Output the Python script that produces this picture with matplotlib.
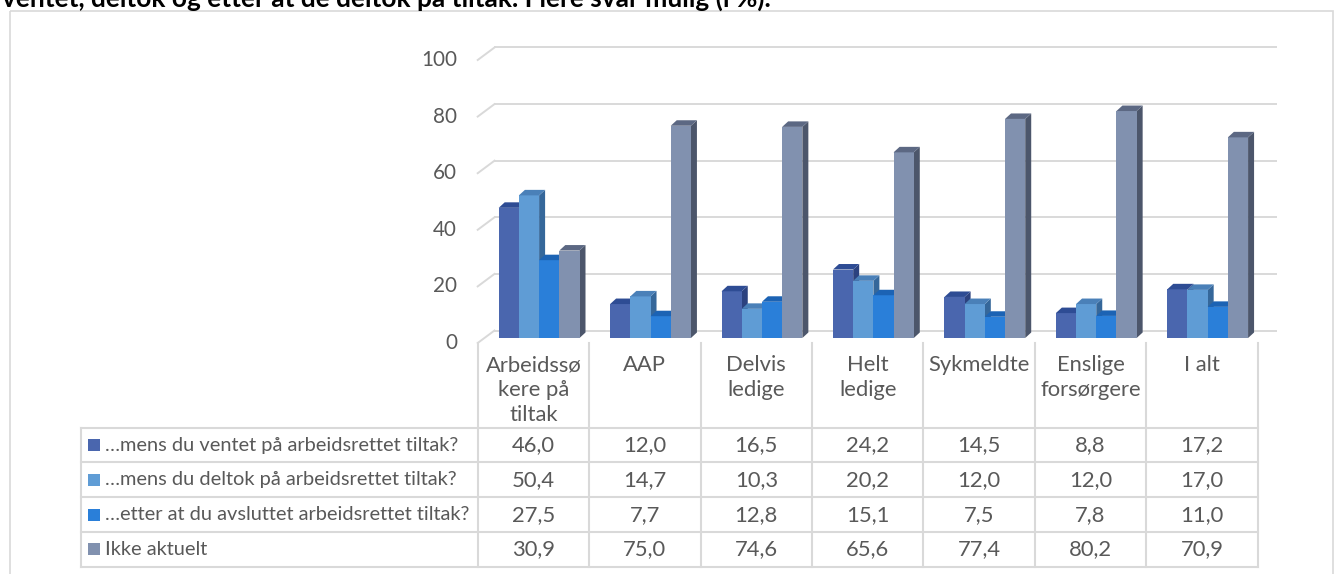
import matplotlib
matplotlib.use('Agg')
import matplotlib.pyplot as plt
from matplotlib.patches import Polygon, Rectangle

plt.rcParams['font.family'] = ['Lato', 'DejaVu Sans']

title = 'ventet, deltok og etter at de deltok på tiltak. Flere svar mulig (i %).'
categories = ['Arbeidssø\nkere på\ntiltak', 'AAP', 'Delvis\nledige', 'Helt\nledige',
              'Sykmeldte', 'Enslige\nforsørgere', 'I alt']
series_names = ['…mens du ventet på arbeidsrettet tiltak?',
                '…mens du deltok på arbeidsrettet tiltak?',
                '…etter at du avsluttet arbeidsrettet tiltak?',
                'Ikke aktuelt']
ventet = [46.0, 12.0, 16.5, 24.2, 14.5, 8.8, 17.2]
deltok = [50.4, 14.7, 10.3, 20.2, 12.0, 12.0, 17.0]
etter = [27.5, 7.7, 12.8, 15.1, 7.5, 7.8, 11.0]
ikke_aktuelt = [30.9, 75.0, 74.6, 65.6, 77.4, 80.2, 70.9]
y_ticks = [0, 20, 40, 60, 80, 100]

series = [ventet, deltok, etter, ikke_aktuelt]
# front / top / side shades for each series
front_cols = ['#4A66AE', '#5F9CD5', '#2A7FD9', '#8191AF']
top_cols = ['#2E4C94', '#4A80B8', '#1C63B4', '#5C6883']
side_cols = ['#2C427F', '#35679A', '#1A5699', '#4C566B']
text_col = '#595959'
line_col = '#D9D9D9'

W, H = 1340, 574
fig = plt.figure(figsize=(W / 100, H / 100), dpi=100)
renderer = fig.canvas.get_renderer()


def fit_size(text, width_px, weight='normal'):
    t = fig.text(0, 0, text, fontsize=10, fontweight=weight)
    w = t.get_window_extent(renderer=renderer).width
    t.remove()
    return 10 * width_px / w


fs = fit_size(series_names[2], 367)
cell_fs = fs * 1.1
title_fs = fit_size(title, 771, 'bold')

# pixel layer for frame, title and data table
lay = fig.add_axes([0, 0, 1, 1])
lay.set_xlim(0, W)
lay.set_ylim(H, 0)
lay.axis('off')

lay.add_patch(Rectangle((9.5, 10.5), 1323, 600, fill=False, ec=line_col, lw=1.2))
lay.text(2, 6.5, title, fontsize=title_fs, fontweight='bold', color='black',
         ha='left', va='baseline')

tab_left, col0, col_w = 80.7, 477.7, 780 / 7
head_top, head_bot = 343, 427.7
row_h = (566.8 - head_bot) / 4
n = len(categories)
col_edges = [col0 + k * col_w for k in range(n + 1)]
row_edges = [head_bot + k * row_h for k in range(5)]

for x in col_edges:
    lay.plot([x, x], [head_top, row_edges[-1]], color=line_col, lw=1.5)
lay.plot([tab_left, tab_left], [head_bot, row_edges[-1]], color=line_col, lw=1.5)
for y in row_edges:
    lay.plot([tab_left, col_edges[-1]], [y, y], color=line_col, lw=1.5)

for i, cat in enumerate(categories):
    cx = col_edges[i] + col_w / 2
    for k, line in enumerate(cat.split('\n')):
        lay.text(cx, 365 + 25 * k, line, fontsize=cell_fs, color=text_col,
                 ha='center', va='center')

for r, (name, vals) in enumerate(zip(series_names, series)):
    cy = row_edges[r] + row_h / 2
    lay.add_patch(Rectangle((88, cy - 6), 12, 12, color=front_cols[r], lw=0))
    lay.text(105, cy, name, fontsize=fs, color=text_col, ha='left', va='center')
    for i, v in enumerate(vals):
        lay.text(col_edges[i] + col_w / 2, cy, f'{v:.1f}'.replace('.', ','),
                 fontsize=cell_fs, color=text_col, ha='center', va='center')

# 3D-looking column chart
px_per_unit = 2.83
ax = fig.add_axes([col0 / W, (H - 338) / H, 780 / W, 338 / H])
ax.set_xlim(0, n)
ax.set_ylim(0, 338 / px_per_unit)
ax.axis('off')
ax.patch.set_alpha(0)
ux, uy = n / 780, 1 / px_per_unit

back_dx, back_dy = 16.8 * ux, 7.5 * uy
front_dy = -5 * uy
for v in y_ticks:
    ax.plot([back_dx, 798.3 * ux], [v + back_dy] * 2, color=line_col, lw=1.4,
            clip_on=False, zorder=1)
    ax.plot([0, back_dx], [v + front_dy, v + back_dy], color=line_col, lw=1.4,
            clip_on=False, zorder=1)
    ax.text(-20.7 * ux, v + front_dy, str(v), fontsize=fs * 1.03, color=text_col,
            ha='right', va='center', clip_on=False)

bw = 20.2 * ux
dx, dy = 6 * ux, 5.5 * uy
for i in range(n):
    for j, vals in enumerate(series):
        v = vals[i]
        x0 = i + 21 * ux + j * bw
        ax.add_patch(Polygon([(x0 + bw, 0), (x0 + bw + dx, dy), (x0 + bw + dx, v + dy),
                              (x0 + bw, v)], closed=True, color=side_cols[j], lw=0,
                             zorder=2, clip_on=False))
        ax.bar(x0, v, width=bw, align='edge', color=front_cols[j], lw=0, zorder=2)
        ax.add_patch(Polygon([(x0, v), (x0 + bw, v), (x0 + bw + dx, v + dy),
                              (x0 + dx, v + dy)], closed=True, color=top_cols[j], lw=0,
                             zorder=2, clip_on=False))

plt.savefig('out.png', dpi=100)
